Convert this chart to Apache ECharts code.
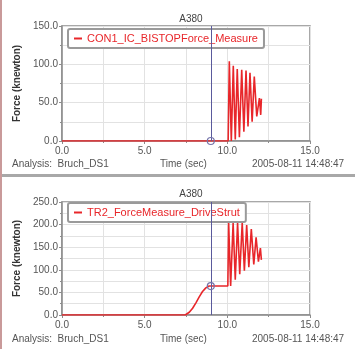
<!DOCTYPE html>
<html>
<head>
<meta charset="utf-8">
<script src="https://cdn.jsdelivr.net/npm/echarts@6/dist/echarts.min.js"></script>
<style>
  html, body { margin: 0; padding: 0; background: #fff; }
  #chart { width: 355px; height: 349px; }
</style>
</head>
<body>
<div id="chart"></div>
<script>
// top panel: CON1_IC_BISTOPForce_Measure
const topTime = [0, 10.05, 10.12, 10.24, 10.36, 10.48, 10.6, 10.73, 10.87, 11.0, 11.13, 11.25, 11.37, 11.5, 11.63, 11.78, 11.94, 12.02, 12.06]
const topForce = [0, 0, 104, 0, 98, 2, 94, 5, 93, 12, 92, 19, 89, 25, 84, 32, 56, 34, 55]

// bottom panel: TR2_ForceMeasure_DriveStrut
const bottomTime = [0, 7.45, 7.7, 7.9, 8.1, 8.3, 8.5, 8.7, 8.9, 9.0, 10.03, 10.08, 10.2, 10.35, 10.48, 10.62, 10.75, 10.9, 11.03, 11.17, 11.3, 11.45, 11.6, 11.74, 11.88, 12.0, 12.06]
const bottomForce = [0, 0, 6, 15, 27, 40, 52, 60, 64, 64, 64, 204, 64, 204, 78, 204, 90, 204, 98, 199, 106, 190, 112, 172, 118, 148, 122]

const seriesNames = ['CON1_IC_BISTOPForce_Measure', 'TR2_ForceMeasure_DriveStrut']
const yMax = [150, 250]
const cursorTime = 9.0
const cursorValues = [0, 64]

const font = 'Liberation Sans'
const lineRed = '#e8262a'
const gridGray = '#e2e2e2'
const frameGray = '#8c8c8c'

const zip = (t, v) => t.map((x, i) => [x, v[i]])

const makeX = gridIndex => ({
  type: 'value',
  gridIndex,
  min: 0,
  max: 15,
  interval: 5,
  axisLine: { show: true, lineStyle: { color: frameGray, width: 1.5 } },
  axisTick: { show: true, length: 3, lineStyle: { color: frameGray } },
  minorTick: { show: true, splitNumber: 2, length: 2, lineStyle: { color: frameGray } },
  axisLabel: { color: '#555', fontSize: 10, fontFamily: font, margin: 5, formatter: v => v.toFixed(1) },
  splitLine: { show: true, lineStyle: { color: gridGray } },
  minorSplitLine: { show: true, lineStyle: { color: gridGray } },
})

const makeY = (gridIndex, max) => ({
  type: 'value',
  gridIndex,
  min: 0,
  max,
  interval: 50,
  name: 'Force (knewton)',
  nameLocation: 'middle',
  nameGap: 38,
  nameTextStyle: { color: '#333', fontSize: 10, fontWeight: 'bold', fontFamily: font },
  axisLine: { show: true, lineStyle: { color: frameGray, width: 1.5 } },
  axisTick: { show: true, length: 3, lineStyle: { color: frameGray } },
  minorTick: { show: true, splitNumber: 2, length: 2, lineStyle: { color: frameGray } },
  axisLabel: { color: '#555', fontSize: 10, fontFamily: font, margin: 4, formatter: v => v.toFixed(1) },
  splitLine: { show: true, lineStyle: { color: gridGray } },
  minorSplitLine: { show: true, lineStyle: { color: gridGray } },
})

const makeSeries = (i, data) => ({
  name: seriesNames[i],
  type: 'line',
  xAxisIndex: i,
  yAxisIndex: i,
  data,
  showSymbol: false,
  animation: false,
  lineStyle: { color: lineRed, width: 1.6 },
  itemStyle: { color: lineRed },
  markLine: {
    silent: true,
    symbol: 'none',
    label: { show: false },
    lineStyle: { color: '#5a5a9c', width: 1, type: 'solid' },
    data: [{ xAxis: cursorTime }],
  },
  markPoint: {
    silent: true,
    symbol: 'circle',
    symbolSize: 7,
    label: { show: false },
    itemStyle: { color: 'rgba(255,255,255,0)', borderColor: '#7474aa', borderWidth: 1.2 },
    data: [{ coord: [cursorTime, cursorValues[i]] }],
  },
})

const makeLegend = (i, top) => ({
  data: [{ name: seriesNames[i], icon: 'rect' }],
  left: 68,
  top,
  itemWidth: 8,
  itemHeight: 2,
  padding: [4, 6, 4, 6],
  backgroundColor: '#fff',
  borderColor: '#9a9a9a',
  borderWidth: 2,
  borderRadius: 2,
  textStyle: { color: lineRed, fontSize: 11, fontFamily: font },
})

const footer = y => [
  { type: 'text', left: 12, top: y, style: { text: 'Analysis:  Bruch_DS1', fill: '#555', fontSize: 10, fontFamily: font } },
  { type: 'text', left: 160, top: y, style: { text: 'Time (sec)', fill: '#555', fontSize: 10, fontFamily: font } },
  { type: 'text', left: 252, top: y, style: { text: '2005-08-11 14:48:47', fill: '#555', fontSize: 10, fontFamily: font } },
]

const chart = echarts.init(document.getElementById('chart'), null, { renderer: 'canvas' })

chart.setOption({
  backgroundColor: '#fff',
  animation: false,
  title: [
    { text: 'A380', left: 186, top: 9, textAlign: 'center', textStyle: { color: '#444', fontSize: 10, fontWeight: 'normal', fontFamily: font } },
    { text: 'A380', left: 186, top: 184, textAlign: 'center', textStyle: { color: '#444', fontSize: 10, fontWeight: 'normal', fontFamily: font } },
  ],
  legend: [makeLegend(0, 29), makeLegend(1, 203)],
  grid: [
    { left: 62, top: 26, width: 248, height: 115, show: true, borderColor: frameGray, borderWidth: 1.5, backgroundColor: '#fff' },
    { left: 62, top: 202, width: 248, height: 113, show: true, borderColor: frameGray, borderWidth: 1.5, backgroundColor: '#fff' },
  ],
  xAxis: [makeX(0), makeX(1)],
  yAxis: [makeY(0, yMax[0]), makeY(1, yMax[1])],
  series: [makeSeries(0, zip(topTime, topForce)), makeSeries(1, zip(bottomTime, bottomForce))],
  graphic: [
    { type: 'rect', left: 0, top: 0, shape: { width: 2, height: 349 }, style: { fill: '#c99a9a' } },
    { type: 'rect', left: 2, top: 174, shape: { width: 353, height: 3 }, style: { fill: '#a8a8a8' } },
    ...footer(159),
    ...footer(334),
  ],
})
</script>
</body>
</html>
